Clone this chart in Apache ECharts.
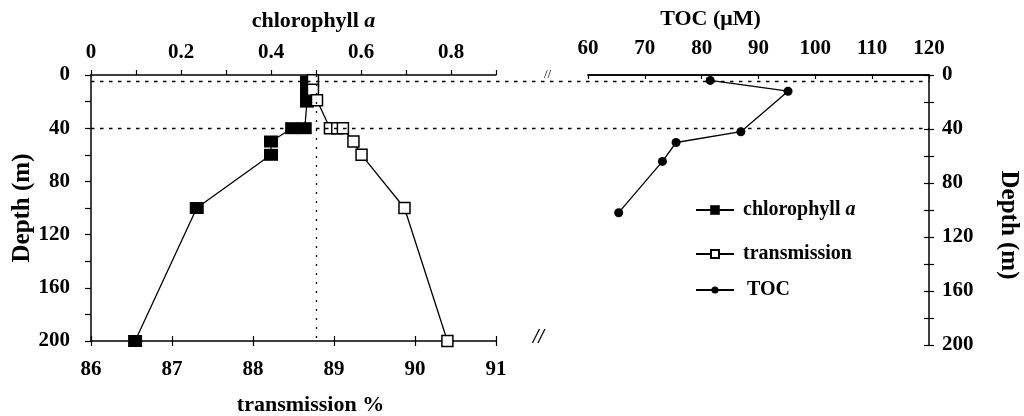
<!DOCTYPE html>
<html><head><meta charset="utf-8">
<script src="https://cdn.jsdelivr.net/npm/echarts@6/dist/echarts.min.js"></script>
<style>html,body{margin:0;padding:0;background:#fff}#c{width:1024px;height:416px}</style>
</head><body><div id="c"></div>
<script>
// ---- data ----
const depthLabelStep = 40;
const chlDepth   = [5, 10, 15, 20, 40, 40, 50, 60, 100, 200];
const chlValue   = [0.48, 0.48, 0.48, 0.48, 0.475, 0.447, 0.40, 0.40, 0.235, 0.098];
const transDepth = [4, 11, 19, 40, 40, 40, 50, 60, 100, 200];
const transValue = [88.74, 88.74, 88.79, 88.95, 89.04, 89.11, 89.24, 89.34, 89.87, 90.40];
const tocDepth   = [4, 12, 42, 50, 64, 102];
const tocValue   = [81.5, 95.2, 86.9, 75.5, 73.1, 65.4];
const refDepths = [5, 40];
const refTransmission = 88.78;

const FONT = 'Liberation Serif';
const lbl = {fontFamily: FONT, fontWeight: 'bold', fontSize: 21, color: '#000'};
const nameStyle = {fontFamily: FONT, fontWeight: 'bold', fontSize: 22, color: '#000'};
const axLine = {show: true, lineStyle: {color: '#000', width: 1.5}};

const chart = echarts.init(document.getElementById('c'), null, {renderer: 'canvas'});
const pair = (xs, ys) => xs.map((x, i) => [x, ys[i]]);

const option = {
  animation: false,
  backgroundColor: '#fff',
  grid: [
    {left: 91, top: 75, width: 405, height: 266, containLabel: false, outerBoundsMode: 'none'},
    {left: 588, top: 75, width: 341, height: 270, containLabel: false, outerBoundsMode: 'none'},
    {left: 91, top: 75, width: 838, height: 266, containLabel: false, outerBoundsMode: 'none'}
  ],
  xAxis: [
    { // chlorophyll (top)
      type: 'value', gridIndex: 0, position: 'top', min: 0, max: 0.9, interval: 0.1,
      axisLine: axLine, axisTick: {show: true, length: 5, lineStyle: {color: '#000', width: 1.2}},
      axisLabel: Object.assign({margin: 12, formatter: v => {
        const k = Math.round(v * 10); return (k % 2 === 0 && k < 9) ? String(Math.round(v * 10) / 10) : '';
      }}, lbl),
      splitLine: {show: false},
      name: 'chlorophyll {i|a}', nameLocation: 'middle', nameGap: 43,
      nameTextStyle: Object.assign({padding: [0, 0, 0, 40], rich: {i: {fontFamily: FONT, fontWeight: 'bold', fontStyle: 'italic', fontSize: 22}}}, nameStyle)
    },
    { // transmission (bottom)
      type: 'value', gridIndex: 0, position: 'bottom', min: 86, max: 91, interval: 1,
      axisLine: axLine, axisTick: {show: true, length: 5, lineStyle: {color: '#000', width: 1.2}},
      axisLabel: Object.assign({margin: 18}, lbl), splitLine: {show: false},
      name: 'transmission %', nameLocation: 'middle', nameGap: 53,
      nameTextStyle: Object.assign({padding: [0, 0, 0, 34]}, nameStyle)
    },
    { // inner ticks of transmission axis
      type: 'value', gridIndex: 0, position: 'bottom', min: 86, max: 91, interval: 1,
      axisLine: {show: false}, axisTick: {show: true, inside: true, length: 5, lineStyle: {color: '#000', width: 1.2}},
      axisLabel: {show: false}, splitLine: {show: false}
    },
    { // TOC (top)
      type: 'value', gridIndex: 1, position: 'top', min: 60, max: 120, interval: 10,
      axisLine: axLine, axisTick: {show: true, inside: true, length: 4, lineStyle: {color: '#000', width: 1.2}},
      axisLabel: Object.assign({margin: 16}, lbl), splitLine: {show: false},
      name: 'TOC (μM)', nameLocation: 'middle', nameGap: 45,
      nameTextStyle: Object.assign({padding: [0, 96, 0, 0]}, nameStyle)
    },
    { // bottom line of TOC panel
      type: 'value', gridIndex: 1, position: 'bottom', min: 60, max: 120,
      axisLine: axLine, axisTick: {show: false}, axisLabel: {show: false}, splitLine: {show: false}
    },
    {type: 'value', gridIndex: 2, min: 0, max: 1, show: false}
  ],
  yAxis: [
    { // left depth
      type: 'value', gridIndex: 0, position: 'left', inverse: true, min: 0, max: 200, interval: 20,
      axisLine: axLine, axisTick: {show: true, length: 6, lineStyle: {color: '#000', width: 1.2}},
      axisLabel: Object.assign({margin: 21, formatter: v => (v % depthLabelStep === 0 ? String(v) : '')}, lbl),
      splitLine: {show: false},
      name: 'Depth (m)', nameLocation: 'middle', nameGap: 56, nameRotate: 90,
      nameTextStyle: Object.assign({}, nameStyle, {fontSize: 25})
    },
    { // right depth
      type: 'value', gridIndex: 1, position: 'right', inverse: true, min: 0, max: 200, interval: 20,
      axisLine: axLine, axisTick: {show: true, length: 5, lineStyle: {color: '#000', width: 1.2}},
      axisLabel: Object.assign({margin: 13, formatter: v => (v % depthLabelStep === 0 ? String(v) : '')}, lbl),
      splitLine: {show: false},
      name: 'Depth (m)', nameLocation: 'middle', nameGap: 67, nameRotate: -90,
      nameTextStyle: Object.assign({}, nameStyle, {fontSize: 25, padding: [0, 0, 0, 30]})
    },
    { // inner ticks of right depth axis
      type: 'value', gridIndex: 1, position: 'right', inverse: true, min: 0, max: 200, interval: 20,
      axisLine: {show: false}, axisTick: {show: true, inside: true, length: 5, lineStyle: {color: '#000', width: 1.2}},
      axisLabel: {show: false}, splitLine: {show: false}
    },
    {type: 'value', gridIndex: 2, inverse: true, min: 0, max: 200, show: false}
  ],
  legend: [
    {data: ['chlorophyll a'], left: 695, top: 200, itemWidth: 38, itemHeight: 12, padding: 0,
     formatter: () => 'chlorophyll {i|a}',
     textStyle: {fontFamily: FONT, fontWeight: 'bold', fontSize: 20, color: '#000', padding: [0, 0, 0, 4],
       rich: {i: {fontFamily: FONT, fontWeight: 'bold', fontStyle: 'italic', fontSize: 20}}}},
    {data: ['transmission'], left: 695, top: 244, itemWidth: 38, itemHeight: 10, padding: 0,
     textStyle: {fontFamily: FONT, fontWeight: 'bold', fontSize: 20, color: '#000', padding: [0, 0, 0, 4]}},
    {data: ['TOC'], left: 695, top: 280, itemWidth: 38, itemHeight: 9, padding: 0,
     textStyle: {fontFamily: FONT, fontWeight: 'bold', fontSize: 20, color: '#000', padding: [0, 0, 0, 8]}}
  ],
  graphic: [
    {type: 'text', left: 533, top: 328, style: {text: '//', fontFamily: FONT, fontWeight: 'bold', fontStyle: 'italic', fontSize: 20, fill: '#000'}},
    {type: 'text', left: 544, top: 68, style: {text: '//', fontFamily: FONT, fontSize: 13, fill: '#000'}}
  ],
  series: [
    { // reference dotted lines across both panels
      type: 'line', xAxisIndex: 5, yAxisIndex: 3, data: [], silent: true,
      markLine: {silent: true, symbol: 'none', label: {show: false},
        lineStyle: {color: '#000', width: 1.3, type: [3.5, 5.5]},
        data: refDepths.map(d => ({yAxis: d}))}
    },
    { // vertical dotted reference
      type: 'line', xAxisIndex: 1, yAxisIndex: 0, data: [], silent: true,
      markLine: {silent: true, symbol: 'none', label: {show: false},
        lineStyle: {color: '#000', width: 1.3, type: [2, 7]},
        data: [{xAxis: refTransmission}]}
    },
    {
      name: 'chlorophyll a', type: 'line', xAxisIndex: 0, yAxisIndex: 0,
      data: pair(chlValue, chlDepth), symbol: 'rect', symbolSize: [14, 12],
      lineStyle: {color: '#000', width: 1.3}, itemStyle: {color: '#000'}, z: 3
    },
    {
      name: 'transmission', type: 'line', xAxisIndex: 1, yAxisIndex: 0,
      data: pair(transValue, transDepth), symbol: 'rect', symbolSize: 11,
      lineStyle: {color: '#000', width: 1.3}, itemStyle: {color: '#fff', borderColor: '#000', borderWidth: 1.5}, z: 4
    },
    {
      name: 'TOC', type: 'line', xAxisIndex: 3, yAxisIndex: 1,
      data: pair(tocValue, tocDepth), symbol: 'circle', symbolSize: 9,
      lineStyle: {color: '#000', width: 1.3}, itemStyle: {color: '#000'}, z: 3
    }
  ]
};
chart.setOption(option);
</script></body></html>
